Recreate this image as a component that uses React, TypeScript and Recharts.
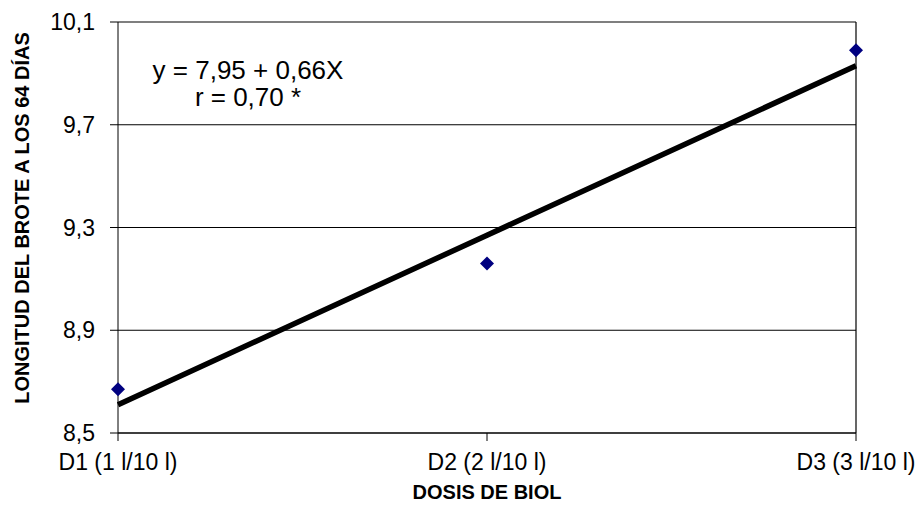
import React from "react"
import { CartesianGrid, Line, LineChart, ReferenceLine, XAxis, YAxis } from "recharts"

// Dosis de biol (l por 10 l de agua) y longitud del brote a los 64 días
const doseIndex = [1, 2, 3]
const doseLabels = ["D1 (1 l/10 l)", "D2 (2 l/10 l)", "D3 (3 l/10 l)"]
const observed = [8.67, 9.16, 9.99]
// y = 7,95 + 0,66X evaluated at X = 1, 2, 3
const fitted = [8.61, 9.27, 9.93]
const yTicks = [8.5, 8.9, 9.3, 9.7, 10.1]

const data = doseIndex.map((x, i) => ({ x, observed: observed[i], fitted: fitted[i] }))

const FONT = "'Liberation Sans', Arial, sans-serif"

const Diamond = (props: any) => {
  const { cx, cy } = props
  if (cx == null || cy == null) return null
  const r = 7
  return (
    <path
      d={`M${cx},${cy - r} L${cx + r},${cy} L${cx},${cy + r} L${cx - r},${cy} Z`}
      fill="#000080"
    />
  )
}

export default function App() {
  return (
    <div style={{ position: "absolute", left: 0, top: 0, width: 923, height: 527, background: "#fff", fontFamily: FONT }}>
      <LineChart width={923} height={527} data={data} margin={{ top: 22, right: 67, left: 0, bottom: 34 }}>
        <CartesianGrid vertical={false} stroke="#000" strokeWidth={1.2} />
        <XAxis
          dataKey="x"
          type="number"
          domain={[1, 3]}
          ticks={doseIndex}
          tickFormatter={(v) => doseLabels[v - 1]}
          height={60}
          tickSize={8}
          tickMargin={13}
          stroke="#000"
          tick={{ fill: "#000", fontSize: 23, fontFamily: FONT }}
        />
        <YAxis
          type="number"
          domain={[8.5, 10.1]}
          ticks={yTicks}
          tickFormatter={(v) => v.toFixed(1).replace(".", ",")}
          width={118}
          tickSize={8}
          tickMargin={15}
          stroke="#000"
          tick={{ fill: "#000", fontSize: 23, fontFamily: FONT }}
        />
        <ReferenceLine x={3} stroke="#000" strokeWidth={1.2} />
        <Line
          dataKey="fitted"
          stroke="#000"
          strokeWidth={5.5}
          dot={false}
          activeDot={false}
          isAnimationActive={false}
        />
        <Line
          dataKey="observed"
          stroke="none"
          dot={<Diamond />}
          activeDot={false}
          isAnimationActive={false}
        />
      </LineChart>

      <div style={{ position: "absolute", left: 248, top: 57, transform: "translateX(-50%)", fontSize: 26, lineHeight: "27px", textAlign: "center", whiteSpace: "nowrap", color: "#000" }}>
        y = 7,95 + 0,66X
        <br />
        r = 0,70 *
      </div>

      <div style={{ position: "absolute", left: 22, top: 218, transform: "translate(-50%, -50%) rotate(-90deg)", fontSize: 20, fontWeight: "bold", whiteSpace: "nowrap", color: "#000" }}>
        LONGITUD DEL BROTE A LOS 64 DÍAS
      </div>

      <div style={{ position: "absolute", left: 487, top: 492, transform: "translate(-50%, -50%)", fontSize: 20, fontWeight: "bold", whiteSpace: "nowrap", color: "#000" }}>
        DOSIS DE BIOL
      </div>
    </div>
  )
}
